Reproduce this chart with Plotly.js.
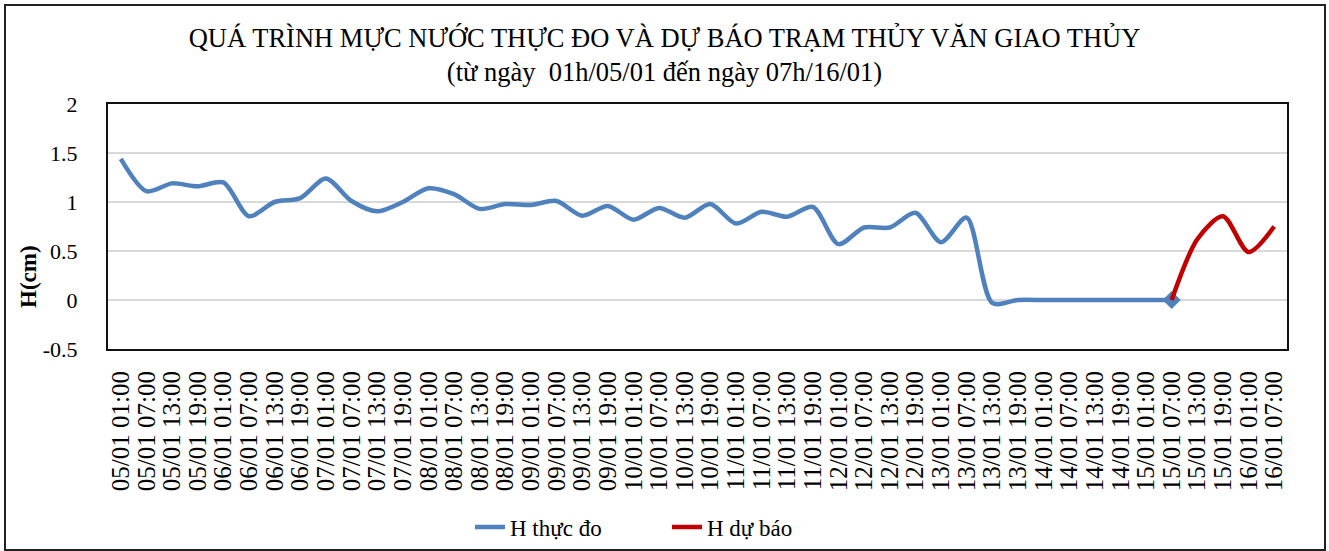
<!DOCTYPE html>
<html>
<head>
<meta charset="utf-8">
<script src="https://cdn.plot.ly/plotly-3.0.1.min.js"></script>
<style>
html,body{margin:0;padding:0;background:#fff;}
#wrap{position:relative;width:1329px;height:551px;}
#chart{width:1329px;height:551px;}
#frame{position:absolute;left:4px;top:4px;width:1318px;height:543px;border:2px solid #222;pointer-events:none;}
</style>
</head>
<body>
<div id="wrap"><div id="chart"></div><div id="frame"></div></div>
<script>
const categories = [
 "05/01 01:00","05/01 07:00","05/01 13:00","05/01 19:00",
 "06/01 01:00","06/01 07:00","06/01 13:00","06/01 19:00",
 "07/01 01:00","07/01 07:00","07/01 13:00","07/01 19:00",
 "08/01 01:00","08/01 07:00","08/01 13:00","08/01 19:00",
 "09/01 01:00","09/01 07:00","09/01 13:00","09/01 19:00",
 "10/01 01:00","10/01 07:00","10/01 13:00","10/01 19:00",
 "11/01 01:00","11/01 07:00","11/01 13:00","11/01 19:00",
 "12/01 01:00","12/01 07:00","12/01 13:00","12/01 19:00",
 "13/01 01:00","13/01 07:00","13/01 13:00","13/01 19:00",
 "14/01 01:00","14/01 07:00","14/01 13:00","14/01 19:00",
 "15/01 01:00","15/01 07:00","15/01 13:00","15/01 19:00",
 "16/01 01:00","16/01 07:00"
];
const hThucDo = [
 1.44,1.11,1.19,1.16,
 1.20,0.855,1.00,1.04,
 1.24,1.01,0.905,1.00,
 1.14,1.08,0.93,0.98,
 0.97,1.01,0.86,0.96,
 0.82,0.94,0.84,0.98,
 0.78,0.90,0.85,0.95,
 0.57,0.74,0.74,0.89,
 0.59,0.84,-0.03,0.00,
 0.00,0.00,0.00,0.00,
 0.00,0.00,null,null,
 null,null
];
const hDuBao = [
 null,null,null,null,
 null,null,null,null,
 null,null,null,null,
 null,null,null,null,
 null,null,null,null,
 null,null,null,null,
 null,null,null,null,
 null,null,null,null,
 null,null,null,null,
 null,null,null,null,
 null,0.00,0.62,0.855,
 0.49,0.75
];
const yTicks = [-0.5, 0, 0.5, 1, 1.5, 2];
const yTickText = ["-0.5","0","0.5","1","1.5","2"];
const seriesNames = ["H thực đo","H dự báo"];
const titleLine1 = "QUÁ TRÌNH MỰC NƯỚC THỰC ĐO VÀ DỰ BÁO TRẠM THỦY VĂN GIAO THỦY";
const titleLine2 = "(từ ngày  01h/05/01 đến ngày 07h/16/01)";
const yTitle = "H(cm)";

const FONT = "Liberation Serif, Times New Roman, serif";
const lastBlue = hThucDo.reduce((a,v,i)=> v!==null ? i : a, 0);

const traces = [
 {x:categories, y:hThucDo, type:'scatter', mode:'lines', name:seriesNames[0],
  line:{color:'#4f81bd', width:4.5, shape:'spline', smoothing:0.8},
  connectgaps:false},
 {x:[categories[lastBlue]], y:[hThucDo[lastBlue]], type:'scatter', mode:'markers', showlegend:false,
  marker:{symbol:'diamond', size:14, color:'#4f81bd'}},
 {x:categories, y:hDuBao, type:'scatter', mode:'lines', name:seriesNames[1],
  line:{color:'#c00000', width:4.5, shape:'spline', smoothing:0.8},
  connectgaps:false}
];

const M = {l:108, r:42, t:104, b:202};
const PW = 1329-M.l-M.r, PH = 551-M.t-M.b;
const layout = {
 width:1329, height:551,
 margin:M,
 paper_bgcolor:'#fff', plot_bgcolor:'#fff',
 font:{family:FONT, color:'#000', size:20},
 title:{text:titleLine1+'<br>'+titleLine2, x:0.5, xref:'container', y:1-47/551, yanchor:'top',
        font:{family:FONT, size:26.5, color:'#000'}},
 showlegend:true,
 legend:{orientation:'h', xref:'container', x:470/1329, xanchor:'left',
         yref:'container', y:(551-527)/551, yanchor:'middle',
         entrywidth:152, entrywidthmode:'pixels',
         font:{family:FONT, size:23, color:'#000'}, tracegroupgap:0},
 xaxis:{type:'category', range:[-0.5, categories.length-0.5], tickangle:-90, automargin:false,
        tickmode:'array', tickvals:categories, ticktext:categories,
        tickfont:{family:FONT, size:25, color:'#000'}, showgrid:false, zeroline:false,
        showline:true, mirror:true, linecolor:'#111', linewidth:2, ticks:'', ticklabelstandoff:10},
 yaxis:{range:[-0.5,2], tickvals:yTicks, ticktext:yTickText, showgrid:true, gridcolor:'#d9d9d9', gridwidth:1.5, automargin:false,
        zeroline:false, showline:true, mirror:true, linecolor:'#111', linewidth:2, ticks:'', ticklabelstandoff:24,
        tickfont:{family:FONT, size:22, color:'#000'}},
 annotations:[{text:'<b>'+yTitle+'</b>', textangle:-90, xref:'paper', yref:'paper',
   x:(28-M.l)/PW, xanchor:'center', y:(551-M.b-277)/PH, yanchor:'middle',
   showarrow:false, font:{family:FONT, size:23, color:'#000'}}]
};
Plotly.newPlot('chart', traces, layout, {displayModeBar:false, staticPlot:true});
</script>
</body>
</html>
